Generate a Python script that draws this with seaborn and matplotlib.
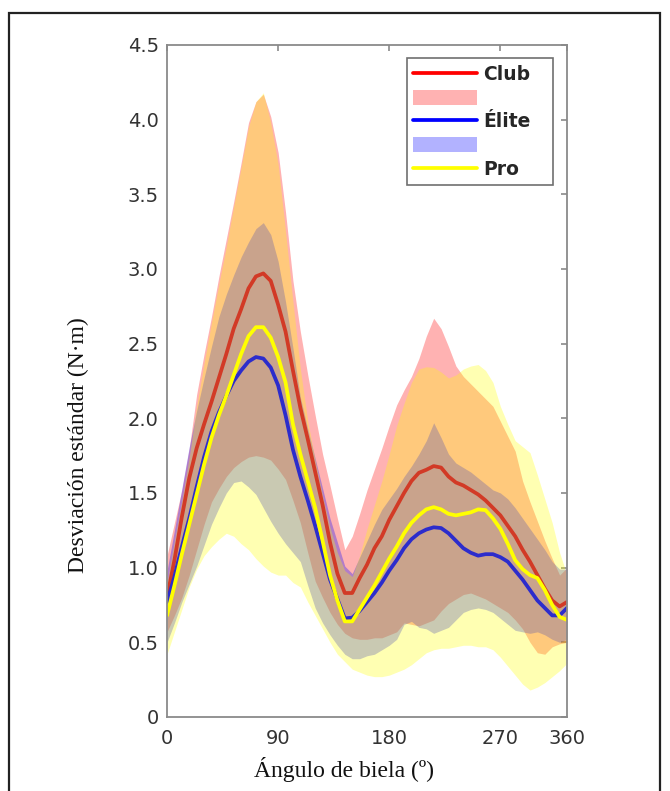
import numpy as np
import pandas as pd
import matplotlib
matplotlib.use("Agg")
import matplotlib.pyplot as plt
from matplotlib.lines import Line2D
from matplotlib.patches import Patch, Rectangle
import seaborn as sns

# crank angle grid (axis drawn 0..324, last label reads 360 as in the source)
angle = [0, 6, 12, 18, 24, 30, 36, 42, 48, 54,
         60, 66, 72, 78, 84, 90, 96, 102, 108, 114,
         120, 126, 132, 138, 144, 150, 156, 162, 168, 174,
         180, 186, 192, 198, 204, 210, 216, 222, 228, 234,
         240, 246, 252, 258, 264, 270, 276, 282, 288, 294,
         300, 306, 312, 318, 324]
xtick_pos = [0, 90, 180, 270, 324]
xtick_labels = ["0", "90", "180", "270", "360"]

# Club
club_mean = [0.80, 1.05, 1.34, 1.60, 1.80, 1.96, 2.11, 2.27, 2.43, 2.60,
             2.73, 2.87, 2.95, 2.97, 2.92, 2.76, 2.58, 2.32, 2.07, 1.86,
             1.64, 1.42, 1.17, 0.96, 0.83, 0.83, 0.93, 1.02, 1.13, 1.21,
             1.32, 1.41, 1.50, 1.58, 1.635, 1.655, 1.68, 1.67, 1.61, 1.57,
             1.55, 1.52, 1.49, 1.45, 1.40, 1.35, 1.28, 1.21, 1.12, 1.04,
             0.95, 0.86, 0.78, 0.74, 0.77]
club_upper = [1.08, 1.30, 1.52, 1.80, 2.16, 2.43, 2.68, 2.95, 3.20, 3.45,
              3.71, 3.98, 4.12, 4.17, 4.02, 3.78, 3.38, 2.92, 2.58, 2.29,
              2.02, 1.76, 1.55, 1.33, 1.12, 1.21, 1.36, 1.52, 1.66, 1.80,
              1.95, 2.09, 2.19, 2.28, 2.40, 2.55, 2.67, 2.60, 2.48, 2.35,
              2.28, 2.23, 2.18, 2.13, 2.08, 1.98, 1.88, 1.78, 1.58, 1.44,
              1.31, 1.18, 1.06, 0.95, 1.00]
club_lower = [0.57, 0.68, 0.80, 0.95, 1.12, 1.29, 1.44, 1.53, 1.61, 1.67,
              1.71, 1.74, 1.75, 1.74, 1.72, 1.66, 1.59, 1.45, 1.30, 1.10,
              0.91, 0.80, 0.70, 0.62, 0.56, 0.53, 0.52, 0.52, 0.53, 0.53,
              0.55, 0.57, 0.63, 0.62, 0.61, 0.63, 0.65, 0.71, 0.76, 0.79,
              0.82, 0.83, 0.81, 0.79, 0.76, 0.73, 0.70, 0.65, 0.59, 0.50,
              0.43, 0.42, 0.47, 0.49, 0.50]

# Elite
elite_mean = [0.77, 0.94, 1.14, 1.33, 1.54, 1.74, 1.91, 2.04, 2.15, 2.25,
              2.32, 2.38, 2.41, 2.40, 2.34, 2.22, 2.02, 1.79, 1.61, 1.45,
              1.28, 1.10, 0.92, 0.79, 0.66, 0.665, 0.71, 0.77, 0.83, 0.90,
              0.98, 1.05, 1.13, 1.19, 1.23, 1.255, 1.27, 1.265, 1.23, 1.18,
              1.13, 1.10, 1.08, 1.09, 1.09, 1.07, 1.04, 0.98, 0.92, 0.85,
              0.78, 0.73, 0.68, 0.68, 0.73]
elite_upper = [0.98, 1.25, 1.53, 1.81, 2.05, 2.27, 2.48, 2.68, 2.83, 2.96,
               3.08, 3.18, 3.27, 3.31, 3.23, 3.05, 2.78, 2.47, 2.14, 1.93,
               1.73, 1.53, 1.33, 1.17, 1.01, 0.96, 1.07, 1.18, 1.29, 1.39,
               1.46, 1.53, 1.61, 1.68, 1.76, 1.85, 1.97, 1.87, 1.76, 1.70,
               1.67, 1.64, 1.60, 1.56, 1.52, 1.50, 1.46, 1.40, 1.33, 1.26,
               1.19, 1.12, 1.04, 0.99, 0.99]
elite_lower = [0.50, 0.63, 0.77, 0.89, 1.01, 1.15, 1.29, 1.40, 1.50, 1.57,
               1.58, 1.54, 1.49, 1.40, 1.31, 1.23, 1.16, 1.10, 1.04, 0.88,
               0.73, 0.63, 0.55, 0.48, 0.42, 0.39, 0.39, 0.41, 0.42, 0.45,
               0.48, 0.52, 0.62, 0.64, 0.60, 0.59, 0.56, 0.58, 0.60, 0.65,
               0.70, 0.72, 0.73, 0.72, 0.70, 0.66, 0.62, 0.58, 0.57, 0.56,
               0.57, 0.55, 0.52, 0.50, 0.52]

# Pro
pro_mean = [0.68, 0.88, 1.09, 1.29, 1.49, 1.69, 1.87, 2.02, 2.15, 2.29,
            2.43, 2.55, 2.61, 2.61, 2.54, 2.41, 2.24, 1.96, 1.76, 1.58,
            1.40, 1.18, 0.95, 0.78, 0.64, 0.64, 0.72, 0.80, 0.88, 0.97,
            1.06, 1.14, 1.23, 1.30, 1.35, 1.39, 1.405, 1.39, 1.36, 1.35,
            1.36, 1.37, 1.39, 1.385, 1.33, 1.26, 1.16, 1.05, 0.99, 0.95,
            0.93, 0.85, 0.75, 0.67, 0.65]
pro_upper = [0.90, 1.18, 1.45, 1.74, 2.08, 2.37, 2.64, 2.90, 3.15, 3.42,
             3.68, 3.95, 4.12, 4.18, 3.98, 3.70, 3.25, 2.78, 2.33, 1.98,
             1.72, 1.48, 1.27, 1.10, 0.98, 0.94, 1.08, 1.26, 1.42, 1.58,
             1.76, 1.95, 2.10, 2.24, 2.33, 2.345, 2.34, 2.31, 2.27, 2.29,
             2.33, 2.35, 2.36, 2.32, 2.24, 2.08, 1.96, 1.85, 1.81, 1.77,
             1.62, 1.46, 1.30, 1.10, 0.95]
pro_lower = [0.42, 0.57, 0.72, 0.87, 0.99, 1.08, 1.14, 1.19, 1.23, 1.21,
             1.16, 1.12, 1.06, 1.01, 0.97, 0.95, 0.95, 0.90, 0.87, 0.77,
             0.68, 0.59, 0.50, 0.42, 0.37, 0.32, 0.30, 0.28, 0.27, 0.27,
             0.28, 0.30, 0.32, 0.35, 0.39, 0.43, 0.45, 0.46, 0.46, 0.47,
             0.48, 0.48, 0.47, 0.47, 0.45, 0.40, 0.34, 0.28, 0.22, 0.18,
             0.20, 0.23, 0.27, 0.31, 0.36]

df = pd.DataFrame({"angle": angle,
                   "club": club_mean, "elite": elite_mean, "pro": pro_mean})

sns.set_theme(style="white")
plt.rcParams["font.family"] = ["DejaVu Sans"]

fig = plt.figure(figsize=(6.7, 7.91), dpi=100)
ax = fig.add_axes([0.2493, 0.0936, 0.597, 0.8496])

# bands (transparent, blended like the original)
ax.fill_between(angle, club_lower, club_upper, color=(1, 0, 0), alpha=0.3, lw=0)
ax.fill_between(angle, elite_lower, elite_upper, color=(0, 0, 1), alpha=0.3, lw=0)
ax.fill_between(angle, pro_lower, pro_upper, color=(1, 1, 0), alpha=0.3, lw=0)

# mean curves
line_kw = dict(lw=2.7, ax=ax, solid_joinstyle="round", solid_capstyle="round")
sns.lineplot(data=df, x="angle", y="club", color="#d23a26", **line_kw)
sns.lineplot(data=df, x="angle", y="elite", color="#2c2ccc", **line_kw)
sns.lineplot(data=df, x="angle", y="pro", color="#ffff00", **line_kw)

ax.set_xlim(0, 324)
ax.set_ylim(0, 4.5)
ax.set_xticks(xtick_pos)
ax.set_xticklabels(xtick_labels)
ax.set_yticks([0, 0.5, 1, 1.5, 2, 2.5, 3, 3.5, 4, 4.5])
ax.set_yticklabels(["0", "0.5", "1.0", "1.5", "2.0", "2.5", "3.0", "3.5", "4.0", "4.5"])
ax.tick_params(direction="in", top=True, right=True, length=4, width=1.2,
               color="#8a8a8a", labelsize=14, labelcolor="#333333")
ax.tick_params(axis="x", pad=9)
ax.tick_params(axis="y", pad=6)
for s in ax.spines.values():
    s.set_color("#8a8a8a")
    s.set_linewidth(1.3)

ax.set_xlabel("Ángulo de biela (º)", family="Liberation Serif", fontsize=17, color="#111111")
ax.set_ylabel("Desviación estándar (N·m)", family="Liberation Serif", fontsize=17, color="#111111")
ax.xaxis.set_label_coords(0.4425, -0.06)
ax.yaxis.set_label_coords(-0.195, 0.405)

handles = [Line2D([0], [0], color="red", lw=2.7),
           Patch(facecolor=(1, 0, 0, 0.3), edgecolor="none"),
           Line2D([0], [0], color="blue", lw=2.7),
           Patch(facecolor=(0, 0, 1, 0.3), edgecolor="none"),
           Line2D([0], [0], color="yellow", lw=2.7)]
labels = ["Club", "", "Élite", "", "Pro"]
leg = ax.legend(handles, labels, loc="upper left", bbox_to_anchor=(0.599, 0.98, 0.3665, 0.0),
                mode="expand", borderaxespad=0, fancybox=False, framealpha=1,
                edgecolor="#707070", prop={"weight": "bold", "size": 13.5},
                handlelength=3.4, handleheight=0.85, handletextpad=0.35,
                labelspacing=0.25, borderpad=0.35)
leg.get_frame().set_linewidth(1.2)

# outer frame of the figure panel
fig.patches.append(Rectangle((9 / 670, -0.05), 651 / 670, 1 - 13 / 791 + 0.05,
                             transform=fig.transFigure, fill=False,
                             edgecolor="#222222", lw=1.6))

fig.savefig("out.png", dpi=100)
